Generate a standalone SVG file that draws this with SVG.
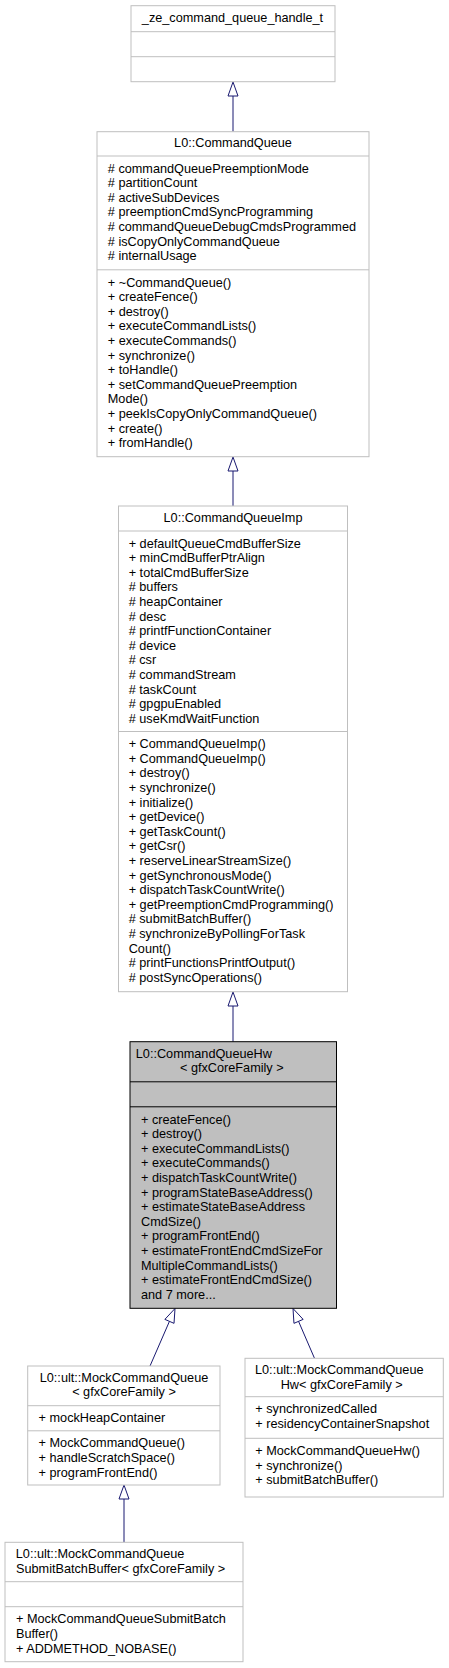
<svg xmlns="http://www.w3.org/2000/svg" width="449" height="1668" viewBox="0 0 449 1668">
<style>
text{font-family:"Liberation Sans",Arial,Helvetica,sans-serif;font-size:12.7px;fill:#000}
.c{text-anchor:middle}
.box{fill:#fff;stroke:#bfbfbf;stroke-width:1}
.sel{fill:#bfbfbf;stroke:#000;stroke-width:1}
.div{stroke:#bfbfbf;stroke-width:1}
.divs{stroke:#000;stroke-width:1}
.edge{stroke:#191970;stroke-width:1;fill:none}
.head{stroke:#191970;stroke-width:1;fill:#fff}
</style>
<rect width="449" height="1668" fill="#fff"/>
<g id="connectors">
<line class="edge" x1="233" y1="96" x2="233" y2="131.7"/>
<polygon class="head" points="233,82 228,96 238,96"/>
<line class="edge" x1="233" y1="471" x2="233" y2="506"/>
<polygon class="head" points="233,457 228,471 238,471"/>
<line class="edge" x1="233" y1="1006" x2="233" y2="1041.7"/>
<polygon class="head" points="233,992 228,1006 238,1006"/>
<line class="edge" x1="150" y1="1366" x2="169.44" y2="1321.34"/>
<polygon class="head" points="175,1308.5 174.03,1323.33 164.86,1319.36"/>
<line class="edge" x1="314.5" y1="1358.3" x2="298.55" y2="1321.35"/>
<polygon class="head" points="293,1308.5 303.14,1319.37 293.96,1323.33"/>
<line class="edge" x1="124" y1="1499" x2="124" y2="1542.3"/>
<polygon class="head" points="124,1485 119,1499 129,1499"/>
</g>
<g id="node_ze_command_queue_handle_t">
<rect class="box" x="131" y="5.7" width="204" height="76"/>
<line class="div" x1="131" y1="31.7" x2="335" y2="31.7"/>
<line class="div" x1="131" y1="56.7" x2="335" y2="56.7"/>
<text class="c" x="232.5" y="21.5">_ze_command_queue_handle_t</text>
</g>
<g id="node_CommandQueue">
<rect class="box" x="97" y="131.7" width="272" height="325"/>
<line class="div" x1="97" y1="156" x2="369" y2="156"/>
<line class="div" x1="97" y1="269.8" x2="369" y2="269.8"/>
<text class="c" x="233" y="147.3">L0::CommandQueue</text>
<text x="107.8" y="172.5"># commandQueuePreemptionMode</text>
<text x="107.8" y="187.1"># partitionCount</text>
<text x="107.8" y="201.7"># activeSubDevices</text>
<text x="107.8" y="216.3"># preemptionCmdSyncProgramming</text>
<text x="107.8" y="230.9"># commandQueueDebugCmdsProgrammed</text>
<text x="107.8" y="245.5"># isCopyOnlyCommandQueue</text>
<text x="107.8" y="260.1"># internalUsage</text>
<text x="107.8" y="286.5">+ ~CommandQueue()</text>
<text x="107.8" y="301.1">+ createFence()</text>
<text x="107.8" y="315.7">+ destroy()</text>
<text x="107.8" y="330.3">+ executeCommandLists()</text>
<text x="107.8" y="344.9">+ executeCommands()</text>
<text x="107.8" y="359.5">+ synchronize()</text>
<text x="107.8" y="374.1">+ toHandle()</text>
<text x="107.8" y="388.7">+ setCommandQueuePreemption</text>
<text x="107.8" y="403.3">Mode()</text>
<text x="107.8" y="417.9">+ peekIsCopyOnlyCommandQueue()</text>
<text x="107.8" y="432.5">+ create()</text>
<text x="107.8" y="447.1">+ fromHandle()</text>
</g>
<g id="node_CommandQueueImp">
<rect class="box" x="118.5" y="506" width="229" height="485.7"/>
<line class="div" x1="118.5" y1="531" x2="347.5" y2="531"/>
<line class="div" x1="118.5" y1="731.5" x2="347.5" y2="731.5"/>
<text class="c" x="233" y="521.6">L0::CommandQueueImp</text>
<text x="128.7" y="547.5">+ defaultQueueCmdBufferSize</text>
<text x="128.7" y="562.1">+ minCmdBufferPtrAlign</text>
<text x="128.7" y="576.7">+ totalCmdBufferSize</text>
<text x="128.7" y="591.3"># buffers</text>
<text x="128.7" y="605.9"># heapContainer</text>
<text x="128.7" y="620.5"># desc</text>
<text x="128.7" y="635.1"># printfFunctionContainer</text>
<text x="128.7" y="649.7"># device</text>
<text x="128.7" y="664.3"># csr</text>
<text x="128.7" y="678.9"># commandStream</text>
<text x="128.7" y="693.5"># taskCount</text>
<text x="128.7" y="708.1"># gpgpuEnabled</text>
<text x="128.7" y="722.7"># useKmdWaitFunction</text>
<text x="128.7" y="748.2">+ CommandQueueImp()</text>
<text x="128.7" y="762.8">+ CommandQueueImp()</text>
<text x="128.7" y="777.4">+ destroy()</text>
<text x="128.7" y="792">+ synchronize()</text>
<text x="128.7" y="806.6">+ initialize()</text>
<text x="128.7" y="821.2">+ getDevice()</text>
<text x="128.7" y="835.8">+ getTaskCount()</text>
<text x="128.7" y="850.4">+ getCsr()</text>
<text x="128.7" y="865">+ reserveLinearStreamSize()</text>
<text x="128.7" y="879.6">+ getSynchronousMode()</text>
<text x="128.7" y="894.2">+ dispatchTaskCountWrite()</text>
<text x="128.7" y="908.8">+ getPreemptionCmdProgramming()</text>
<text x="128.7" y="923.4"># submitBatchBuffer()</text>
<text x="128.7" y="938"># synchronizeByPollingForTask</text>
<text x="128.7" y="952.6">Count()</text>
<text x="128.7" y="967.2"># printFunctionsPrintfOutput()</text>
<text x="128.7" y="981.8"># postSyncOperations()</text>
</g>
<g id="node_CommandQueueHw">
<rect class="sel" x="130" y="1041.7" width="206.5" height="266.6"/>
<line class="divs" x1="130" y1="1081.8" x2="336.5" y2="1081.8"/>
<line class="divs" x1="130" y1="1106.8" x2="336.5" y2="1106.8"/>
<text x="135.8" y="1057.5">L0::CommandQueueHw</text>
<text x="180" y="1072.1">&lt; gfxCoreFamily &gt;</text>
<text x="141" y="1123.5">+ createFence()</text>
<text x="141" y="1138.1">+ destroy()</text>
<text x="141" y="1152.7">+ executeCommandLists()</text>
<text x="141" y="1167.3">+ executeCommands()</text>
<text x="141" y="1181.9">+ dispatchTaskCountWrite()</text>
<text x="141" y="1196.5">+ programStateBaseAddress()</text>
<text x="141" y="1211.1">+ estimateStateBaseAddress</text>
<text x="141" y="1225.7">CmdSize()</text>
<text x="141" y="1240.3">+ programFrontEnd()</text>
<text x="141" y="1254.9">+ estimateFrontEndCmdSizeFor</text>
<text x="141" y="1269.5">MultipleCommandLists()</text>
<text x="141" y="1284.1">+ estimateFrontEndCmdSize()</text>
<text x="141" y="1298.7">and 7 more...</text>
</g>
<g id="node_MockCommandQueue">
<rect class="box" x="27.7" y="1366" width="192.3" height="119"/>
<line class="div" x1="27.7" y1="1405.7" x2="220" y2="1405.7"/>
<line class="div" x1="27.7" y1="1430.8" x2="220" y2="1430.8"/>
<text class="c" x="124" y="1381.6">L0::ult::MockCommandQueue</text>
<text class="c" x="124" y="1396.2">&lt; gfxCoreFamily &gt;</text>
<text x="38.6" y="1422.2">+ mockHeapContainer</text>
<text x="38.6" y="1447.4">+ MockCommandQueue()</text>
<text x="38.6" y="1462">+ handleScratchSpace()</text>
<text x="38.6" y="1476.6">+ programFrontEnd()</text>
</g>
<g id="node_MockCommandQueueHw">
<rect class="box" x="245" y="1358.3" width="198.3" height="138.7"/>
<line class="div" x1="245" y1="1396.7" x2="443.3" y2="1396.7"/>
<line class="div" x1="245" y1="1438.3" x2="443.3" y2="1438.3"/>
<text x="255" y="1373.9">L0::ult::MockCommandQueue</text>
<text x="280.7" y="1388.5">Hw&lt; gfxCoreFamily &gt;</text>
<text x="255.3" y="1413.2">+ synchronizedCalled</text>
<text x="255.3" y="1427.8">+ residencyContainerSnapshot</text>
<text x="255.3" y="1455">+ MockCommandQueueHw()</text>
<text x="255.3" y="1469.6">+ synchronize()</text>
<text x="255.3" y="1484.2">+ submitBatchBuffer()</text>
</g>
<g id="node_MockCommandQueueSubmitBatchBuffer">
<rect class="box" x="5" y="1542.3" width="238" height="119.4"/>
<line class="div" x1="5" y1="1581.7" x2="243" y2="1581.7"/>
<line class="div" x1="5" y1="1606.7" x2="243" y2="1606.7"/>
<text x="15.8" y="1558">L0::ult::MockCommandQueue</text>
<text x="16" y="1572.6">SubmitBatchBuffer&lt; gfxCoreFamily &gt;</text>
<text x="16" y="1623.4">+ MockCommandQueueSubmitBatch</text>
<text x="16" y="1638">Buffer()</text>
<text x="16" y="1652.6">+ ADDMETHOD_NOBASE()</text>
</g>
</svg>
